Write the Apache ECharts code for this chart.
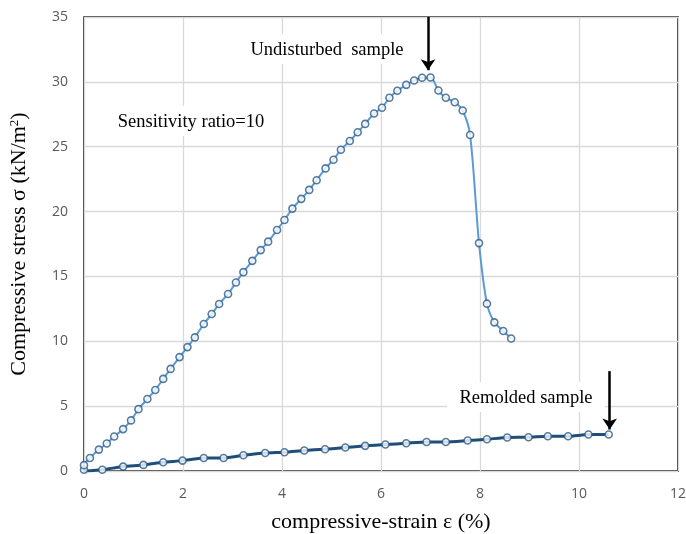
<!DOCTYPE html>
<html><head><meta charset="utf-8">
<script src="https://cdn.jsdelivr.net/npm/echarts@6/dist/echarts.min.js"></script>
<style>html,body{margin:0;padding:0;background:#fff}#c{width:686px;height:534px}</style>
</head><body><div id="c"></div>
<script>
const undisturbedStrain = [0,0,0.12,0.30,0.46,0.61,0.79,0.95,1.10,1.28,1.44,1.60,1.75,1.93,2.09,2.24,2.42,2.58,2.73,2.91,3.07,3.22,3.40,3.57,3.72,3.90,4.05,4.21,4.39,4.55,4.70,4.88,5.04,5.19,5.37,5.53,5.68,5.86,6.02,6.17,6.33,6.51,6.67,6.83,7.0,7.16,7.31,7.49,7.65,7.80,7.98,8.14,8.29,8.47,8.63];
const undisturbedStress = [0.1,0.45,1.0,1.65,2.12,2.66,3.23,3.9,4.77,5.55,6.25,7.1,7.87,8.78,9.55,10.3,11.33,12.1,12.88,13.65,14.53,15.33,16.2,17.03,17.68,18.58,19.35,20.23,20.98,21.67,22.42,23.33,24.0,24.77,25.44,26.11,26.76,27.56,28.0,28.77,29.31,29.77,30.11,30.32,30.34,29.33,28.77,28.43,27.79,25.9,17.57,12.9,11.46,10.79,10.22];
const remoldedStrain = [0,0.37,0.79,1.2,1.6,1.99,2.42,2.82,3.22,3.66,4.05,4.45,4.87,5.28,5.68,6.09,6.51,6.92,7.31,7.75,8.14,8.55,8.98,9.37,9.78,10.19,10.6];
const remoldedStress = [0,0.1,0.34,0.47,0.67,0.8,1.0,1.0,1.21,1.39,1.45,1.58,1.68,1.81,1.94,2.04,2.14,2.24,2.24,2.35,2.45,2.58,2.6,2.68,2.68,2.81,2.81];
const xTicks = [0,2,4,6,8,10,12];
const yTicks = [0,5,10,15,20,25,30,35];

const pair = (xs, ys) => xs.map((x,i)=>[x, ys[i]]);
const serif = '"Liberation Serif","Times New Roman",serif';
const chart = echarts.init(document.getElementById('c'));
const markerStyle = {color:'#fff', borderColor:'#2b5a8a', borderWidth:1.6};
chart.setOption({
  animation:false,
  grid:{left:84, top:17, right:8, bottom:63, show:true, borderColor:'#000', borderWidth:1.5, backgroundColor:'transparent', outerBoundsMode:'none', containLabel:false},
  xAxis:{type:'value', min:xTicks[0], max:xTicks[xTicks.length-1], interval:2,
    axisLine:{show:false}, axisTick:{show:false},
    splitLine:{lineStyle:{color:'#d9d9d9', width:1.3}},
    axisLabel:{color:'#595959', fontSize:14, fontFamily:'"Open Sans",sans-serif', margin:16},
    name:'compressive-strain ε (%)', nameLocation:'middle', nameGap:40,
    nameTextStyle:{fontFamily:serif, fontSize:22, color:'#000'}},
  yAxis:{type:'value', min:yTicks[0], max:yTicks[yTicks.length-1], interval:5,
    axisLine:{show:false}, axisTick:{show:false},
    splitLine:{lineStyle:{color:'#d9d9d9', width:1.3}},
    axisLabel:{color:'#595959', fontSize:14, fontFamily:'"Open Sans",sans-serif', margin:16},
    name:'{a|Compressive stress σ (kN/m}{s|2}{a|)}', nameLocation:'middle', nameGap:53,
    nameTextStyle:{fontFamily:serif, fontSize:22, color:'#000',
      rich:{a:{fontFamily:serif, fontSize:22, color:'#000'}, s:{fontFamily:serif, fontSize:13, color:'#000', verticalAlign:'top', padding:[0,0,10,0]}}}},
  series:[
    {type:'line', data:pair(undisturbedStrain, undisturbedStress), smooth:0.3, showSymbol:false,
     lineStyle:{color:'#5b9bd5', width:2}, z:2,
     markLine:{silent:true, symbol:['none','arrow'], symbolSize:[11,11], label:{show:false},
       lineStyle:{color:'#000', width:2.5, type:'solid'},
       data:[[{coord:[6.95,35]},{coord:[6.95,30.9]}],[{coord:[10.62,7.7]},{coord:[10.62,3.2]}]]}},
    {type:'scatter', data:pair(undisturbedStrain, undisturbedStress), symbol:'circle', symbolSize:7,
     itemStyle:markerStyle, z:4},
    {type:'line', data:pair(remoldedStrain, remoldedStress), smooth:0.2, showSymbol:false,
     lineStyle:{color:'#1f4e79', width:3}, z:3},
    {type:'scatter', data:pair(remoldedStrain.slice(1), remoldedStress.slice(1)), symbol:'circle', symbolSize:7,
     itemStyle:markerStyle, z:4}
  ],
  graphic:[
    {type:'rect', shape:{x:240,y:34,width:174,height:30}, style:{fill:'#fff'}, z:10},
    {type:'text', x:327, y:50, style:{text:'Undisturbed  sample', font:'18.5px '+serif, fill:'#000', align:'center', verticalAlign:'middle'}, z:11},
    {type:'rect', shape:{x:104,y:106,width:174,height:30}, style:{fill:'#fff'}, z:10},
    {type:'text', x:191, y:122, style:{text:'Sensitivity ratio=10', font:'18.5px '+serif, fill:'#000', align:'center', verticalAlign:'middle'}, z:11},
    {type:'rect', shape:{x:447,y:382,width:158,height:30}, style:{fill:'#fff'}, z:10},
    {type:'text', x:526, y:398, style:{text:'Remolded sample', font:'18.5px '+serif, fill:'#000', align:'center', verticalAlign:'middle'}, z:11}
  ]
});
</script></body></html>
